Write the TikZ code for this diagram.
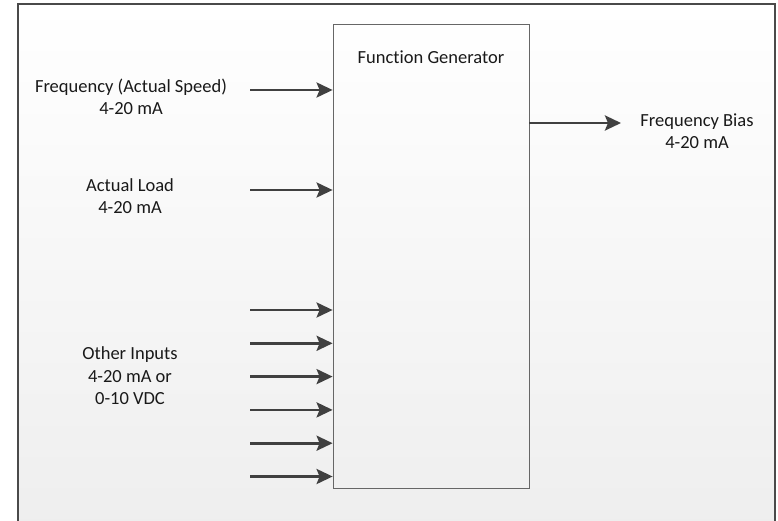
\documentclass[tikz,border=0pt]{standalone}
\usepackage{fontspec}
\setmainfont{Carlito}[Ligatures=NoCommon]
\usetikzlibrary{arrows.meta,positioning}

\definecolor{arrowgray}{HTML}{404040}
\definecolor{framegray}{HTML}{4A4A4A}

\tikzset{
  inarrow/.style={line width=2.8pt, draw=arrowgray,
    -{Stealth[length=16pt,width=15pt,inset=3pt]}},
  lbl/.style={align=center, inner sep=0pt, text=black!90,
    font=\fontsize{18.5}{22.5}\selectfont},
}

\begin{document}
\begin{tikzpicture}[x=1pt,y=-1pt]
        \useasboundingbox (0,0) rectangle (778,521);

        % 背景と外枠
        \shade[top color=white, bottom color=gray!13] (18,4) rectangle (775,521);
        \draw[line width=1.5pt, framegray] (18,521) -- (18,4) -- (775,4) -- (775,521);

        % 関数発生器
        \node[draw=black!60, line width=0.8pt, minimum width=196pt, minimum height=464pt,
              inner sep=0pt] (fg) at (431,256) {};
        \node[lbl] (fgtitle) at (431,57) {Function Generator};

        % 入力
        \coordinate (freq) at (250,90);
        \coordinate (load) at (250,190);
        \draw[inarrow] (freq) -- (fg.west |- freq);
        \draw[inarrow] (load) -- (fg.west |- load);
        \foreach \i in {0,...,5} {
            \coordinate (oth\i) at (250,{310+\i*33.3});
            \draw[inarrow] (oth\i) -- (fg.west |- oth\i);
        }

        % 出力
        \coordinate (bias) at (621,123);
        \draw[inarrow] (fg.east |- bias) -- (bias);

        % ラベル
        \node[lbl] (freqlbl) at (131,97) {Frequency (Actual Speed)\\4-20 mA};
        \node[lbl] (loadlbl) at (130,196) {Actual Load\\4-20 mA};
        \node[lbl] (othlbl) at (130,376) {Other Inputs\\4-20 mA or\\0-10 VDC};
        \node[lbl] (biaslbl) at (697,131) {Frequency Bias\\4-20 mA};
    \end{tikzpicture}
\end{document}
